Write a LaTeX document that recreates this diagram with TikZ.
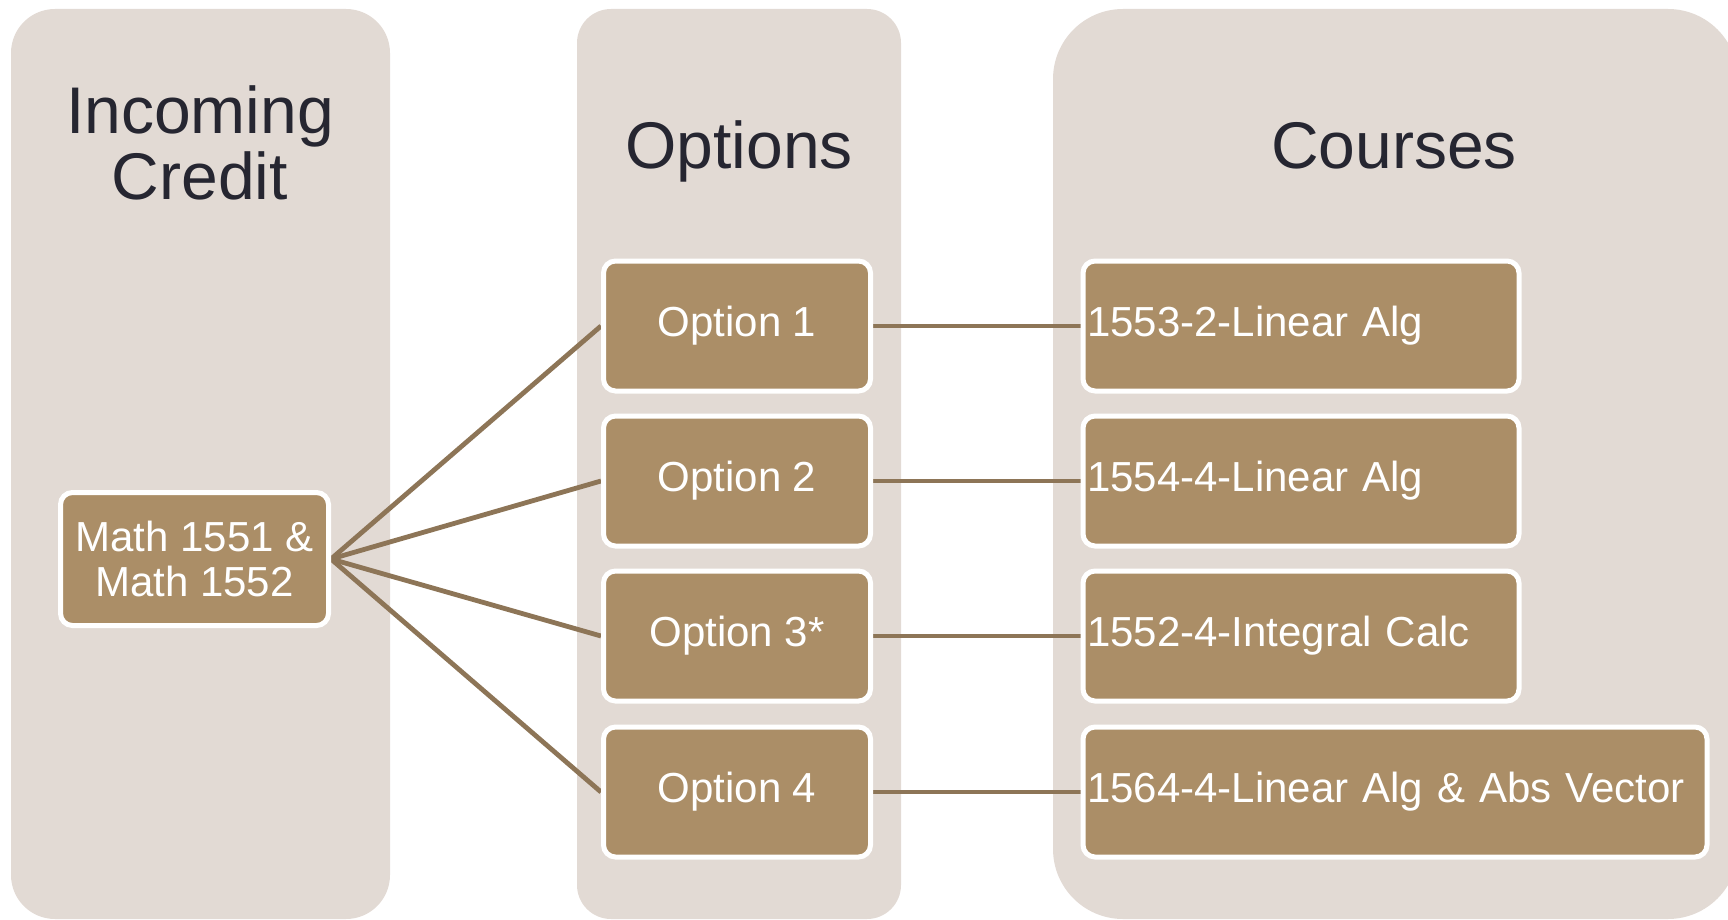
\documentclass[tikz,border=0pt]{standalone}
\usepackage{fontspec}
\setmainfont{Liberation Sans}
\definecolor{panelfill}{HTML}{E2DAD4}
\definecolor{boxfill}{HTML}{AB8E67}
\definecolor{linkcol}{HTML}{8D7557}
\definecolor{titletext}{HTML}{262631}
\pgfdeclarelayer{back}
\pgfdeclarelayer{mid}
\pgfsetlayers{back,mid,main}
\begin{document}
\begin{tikzpicture}[x=1pt,y=-1pt,
  titlelabel/.style={text=titletext, font=\fontsize{66}{64}\selectfont, anchor=base, inner sep=0pt},
  itembox/.style={fill=boxfill, draw=white, line width=5pt, rounded corners=12pt, text=white,
    font=\fontsize{42}{45}\selectfont, minimum height=130pt, inner sep=0pt},
  optbox/.style={itembox, minimum width=267pt},
  coursebox/.style={itembox, anchor=west, inner xsep=4pt, align=left},
  linkline/.style={draw=linkcol, line width=4.8pt}]
\clip (0,0) rectangle (1728,920);
\begin{pgfonlayer}{back}
  \fill[panelfill, rounded corners=44pt] (11,9) rectangle (390,919);
  \fill[panelfill, rounded corners=34pt] (577,9) rectangle (901,919);
  \fill[panelfill, rounded corners=70pt] (1053,9) rectangle (1738,919);
\end{pgfonlayer}
\node[titlelabel] (t1a) at (200,134) {Incoming};
\node[titlelabel] (t1b) at (200,200) {Credit};
\node[titlelabel] (t2) at (739,168) {Options};
\node[titlelabel] (t3) at (1394,168) {Courses};

\node[itembox, minimum width=268pt, minimum height=133pt, align=center] (math) at (194.5,559) {Math 1551 \&\\Math 1552};

\node[optbox] (o1) at (737,326) {\raisebox{-2pt}{Option 1}};
\node[optbox] (o2) at (737,481) {\raisebox{-2pt}{Option 2}};
\node[optbox] (o3) at (737,636) {\raisebox{-2pt}{Option 3*}};
\node[optbox] (o4) at (737,792) {\raisebox{-2pt}{Option 4}};

\node[coursebox, text width=428pt] (c1) at (1080.5,326) {1553-2-Linear Alg};
\node[coursebox, text width=428pt] (c2) at (1080.5,481) {1554-4-Linear Alg};
\node[coursebox, text width=428pt] (c3) at (1080.5,636) {1552-4-Integral Calc};
\node[coursebox, text width=616pt] (c4) at (1080.5,792) {1564-4-Linear Alg \& Abs Vector};

\begin{pgfonlayer}{mid}
  \foreach \i in {1,2,3,4} {
    \draw[linkline] (math.east) -- (o\i.west);
    \draw[linkline] (o\i.east) -- (c\i.west);
  }
\end{pgfonlayer}
\end{tikzpicture}
\end{document}
